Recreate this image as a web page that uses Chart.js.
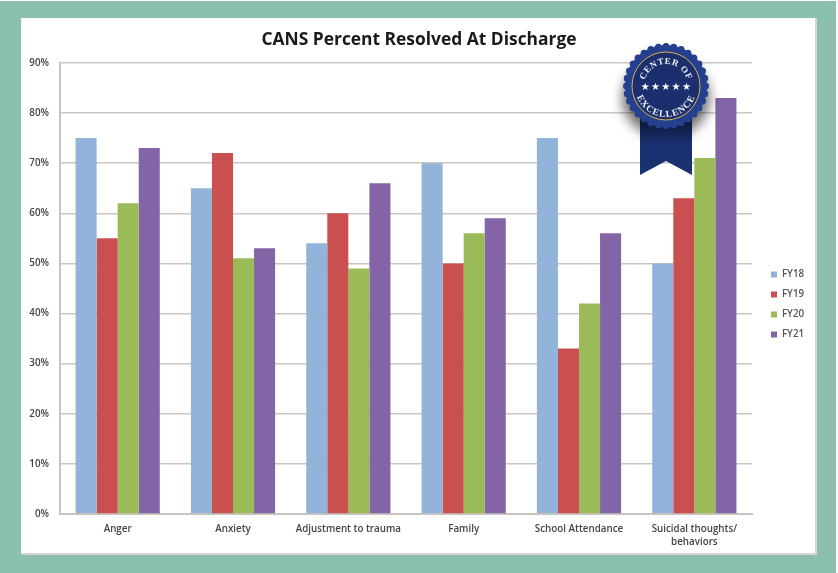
<!DOCTYPE html>
<html>
<head>
<meta charset="utf-8">
<title>CANS Percent Resolved At Discharge</title>
<script src="https://cdn.jsdelivr.net/npm/chart.js@4"></script>
<style>
  html, body { margin: 0; padding: 0; background: #fff; }
  #frame { position: absolute; left: 0; top: 1px; width: 836px; height: 572px; background: #8bc0b0; }
  #panel { position: absolute; left: 21px; top: 18px; width: 794px; height: 535px; background: #fff;
           border-right: 2px solid #d8d6d4; border-bottom: 2px solid #d8d6d4; }
  #wrap { position: absolute; left: 0; top: 0; width: 838px; height: 573px; }
  #myChart { filter: blur(0.4px); }
  #badge { position: absolute; left: 600px; top: 30px; }
</style>
</head>
<body>
<div id="frame"></div>
<div id="panel"></div>
<div id="wrap"><canvas id="myChart" width="838" height="573"></canvas></div>
<svg id="badge" width="150" height="160" viewBox="600 30 150 160">
  <defs>
    <filter id="shadow" x="-40%" y="-40%" width="180%" height="180%">
      <feGaussianBlur stdDeviation="6"/>
    </filter>
    <linearGradient id="ribbonShade" x1="0" y1="0" x2="0" y2="1">
      <stop offset="0" stop-color="#0c1533"/>
      <stop offset="0.45" stop-color="#1a3070"/>
      <stop offset="1" stop-color="#1a3070"/>
    </linearGradient>
    <path id="arcTop" d="M 644 86 A 22 22 0 0 1 688 86"/>
    <path id="arcBottom" d="M 635 86 A 31 31 0 0 0 697 86"/>
  </defs>
  <ellipse cx="666" cy="98" rx="44" ry="40" fill="#000" opacity="0.55" filter="url(#shadow)"/>
  <polygon points="640,118 692,118 692,175 666,161 640,175" fill="url(#ribbonShade)"/>
  <circle cx="666" cy="86" r="41" fill="#24408f"/>
  <circle cx="666" cy="86" r="39.5" fill="none" stroke="#24408f" stroke-width="7" stroke-linecap="round" pathLength="32" stroke-dasharray="0 1"/>
  <circle cx="666" cy="86" r="34" fill="#1b2f6f" stroke="#d6b24a" stroke-width="1"/>
  <g font-family="Liberation Serif" font-weight="bold" fill="#f1f1f1">
    <text text-anchor="middle" font-size="9" letter-spacing="0.5"><textPath href="#arcTop" startOffset="50%">CENTER OF</textPath></text>
    <text text-anchor="middle" font-size="9.5" letter-spacing="1"><textPath href="#arcBottom" startOffset="50%">EXCELLENCE</textPath></text>
  </g>
  <text x="666.5" y="90" text-anchor="middle" font-family="DejaVu Sans" font-size="10" fill="#fff" letter-spacing="1.3">★★★★★</text>
</svg>
<script>
const categories = [
  "Anger",
  "Anxiety",
  "Adjustment to trauma",
  "Family",
  "School Attendance",
  ["Suicidal thoughts/", "behaviors"],
];
const fy18 = [75, 65, 54, 70, 75, 50];
const fy19 = [55, 72, 60, 50, 33, 63];
const fy20 = [62, 51, 49, 56, 42, 71];
const fy21 = [73, 53, 66, 59, 56, 83];
const seriesNames = ["FY18", "FY19", "FY20", "FY21"];
const seriesColors = ["#92b4da", "#c9504f", "#9bbb59", "#8364a6"];

const chartCanvas = document.getElementById("myChart");
const labelFont = { family: "Open Sans", size: 9.8, weight: "600", lineHeight: 1.4 };

// legend keeps a fixed width so the plot ends where it should, then gets nudged into place
const legendPlacement = {
  id: "legendPlacement",
  beforeLayout(chart) {
    const legendFit = chart.legend.fit;
    chart.legend.fit = function () {
      legendFit.call(this);
      this.width = 86;
    };
  },
  afterLayout(chart) {
    chart.legend.left = 760.8;
    chart.legend.top += 3;
    chart.legend.bottom += 3;
  },
};

const myChart = new Chart(chartCanvas, {
  type: "bar",
  data: {
    labels: categories,
    datasets: [fy18, fy19, fy20, fy21].map((values, i) => ({
      label: seriesNames[i],
      data: values,
      backgroundColor: seriesColors[i],
      categoryPercentage: 0.73,
      barPercentage: 1,
    })),
  },
  plugins: [legendPlacement],
  options: {
    responsive: false,
    animation: false,
    layout: { padding: { left: 0, right: 0, top: 30, bottom: 0 } },
    plugins: {
      title: {
        display: true,
        text: "CANS Percent Resolved At Discharge",
        color: "#1a1a1a",
        font: { family: "Open Sans", size: 17.4, weight: "bold" },
        padding: { top: 0, bottom: 12 },
      },
      legend: {
        position: "right",
        labels: {
          color: "#555",
          font: labelFont,
          boxWidth: 6,
          boxHeight: 6,
          padding: 10.2,
        },
      },
      tooltip: { enabled: false },
    },
    scales: {
      x: {
        grid: { display: false },
        border: { color: "#c9c3bd", width: 2 },
        ticks: { color: "#444", font: labelFont, maxRotation: 0, autoSkip: false, padding: 0 },
        afterFit: (axis) => { axis.height = 59; },
      },
      y: {
        min: 0,
        max: 90,
        grid: { color: "#cbc6c1", lineWidth: 1.5, drawTicks: false },
        border: { color: "#c9c3bd", width: 2 },
        ticks: {
          stepSize: 10,
          color: "#444",
          font: labelFont,
          padding: 11,
          callback: (value) => value + "%",
        },
        afterFit: (axis) => { axis.width = 60; },
      },
    },
  },
});
</script>
</body>
</html>
